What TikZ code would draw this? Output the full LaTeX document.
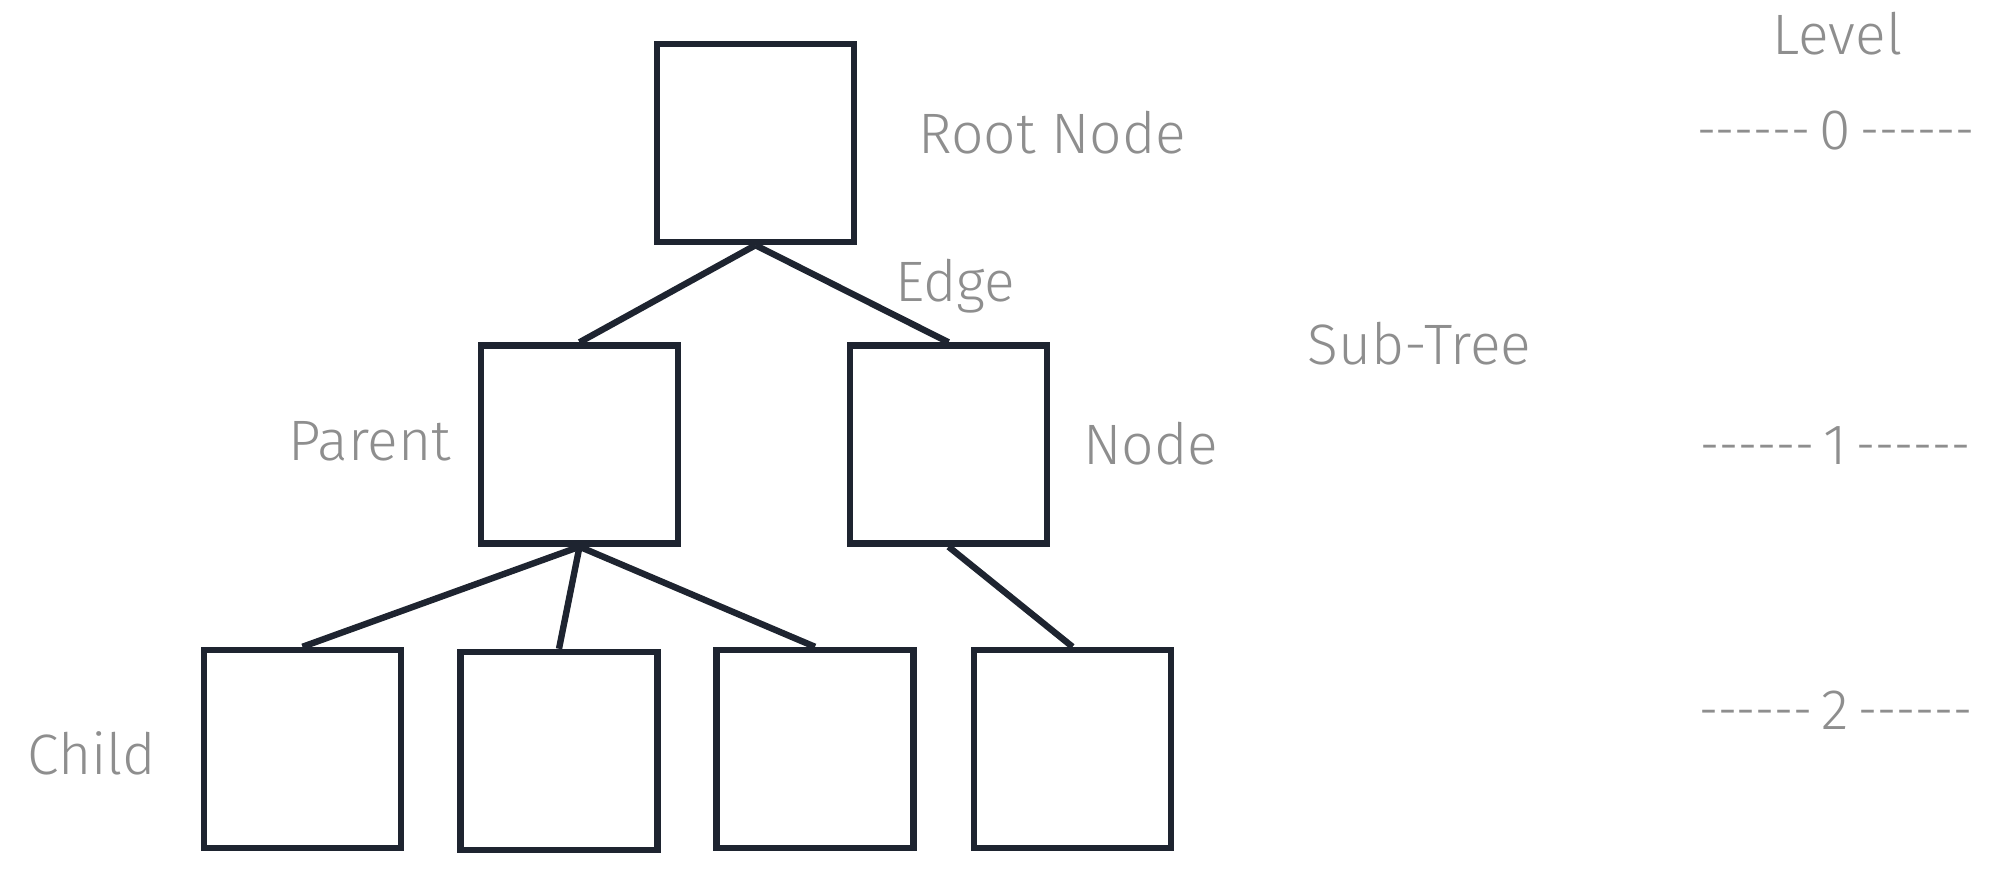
\documentclass[tikz,border=0pt]{standalone}
\usepackage{fontspec}
\usepackage{graphicx}
\setmainfont{Fira Sans}[UprightFont={* Light}]
\definecolor{boxline}{HTML}{1E2430}
\definecolor{labelgray}{HTML}{8E8E8E}
\newcommand\hy{\mbox{-}}
\newcommand\dashrun{\scalebox{0.83}[1]{\hy\hy\hy\hy\hy\hy}}
\newcommand\levelmark[1]{\dashrun\hspace{4.5pt}#1\hspace{4.5pt}\dashrun}
\tikzset{
  treebox/.style={draw=boxline, line width=3.2pt, rectangle, inner sep=0pt,
    minimum width=98.5pt, minimum height=99pt},
  treeedge/.style={draw=boxline, line width=3.2pt},
  lbl/.style={text=labelgray, inner sep=0pt, font=\fontsize{28.5}{29}\selectfont},
}
\begin{document}
\begin{tikzpicture}[x=0.5pt,y=-0.5pt]
\useasboundingbox (0,0) rectangle (1993,876);
% boxes
\node[treebox] (root) at (755.5,143) {};
\node[treebox] (par) at (579.5,444.5) {};
\node[treebox] (nod) at (948.5,444.5) {};
\node[treebox] (c1) at (302.5,749) {};
\node[treebox] (c2) at (559,751) {};
\node[treebox] (c3) at (815,749) {};
\node[treebox] (c4) at (1072.5,749) {};
% edges
\draw[treeedge] (root.south) -- (par.north);
\draw[treeedge] (root.south) -- (nod.north);
\draw[treeedge] (par.south) -- (c1.north);
\draw[treeedge] (par.south) -- (c2.north);
\draw[treeedge] (par.south) -- (c3.north);
\draw[treeedge] (nod.south) -- (c4.north);
% labels
\node[lbl, anchor=base west] (lroot) at (918,154) {Root Node};
\node[lbl, anchor=base west] (ledge) at (895,302) {Edge};
\node[lbl, anchor=base west] (lsub) at (1307,365) {Sub-Tree};
\node[lbl, anchor=base west] (lpar) at (288,461) {Parent};
\node[lbl, anchor=base west] (lnode) at (1083,465) {Node};
\node[lbl, anchor=base west] (lchild) at (27,775) {Child};
% levels
\node[lbl, anchor=base] (llevel) at (1837.5,55) {Level};
\node[lbl, anchor=base] (lv0) at (1835.5,150) {\levelmark{0}};
\node[lbl, anchor=base] (lv1) at (1835.5,465) {\levelmark{1}};
\node[lbl, anchor=base] (lv2) at (1835.5,730) {\levelmark{2}};
\end{tikzpicture}
\end{document}
